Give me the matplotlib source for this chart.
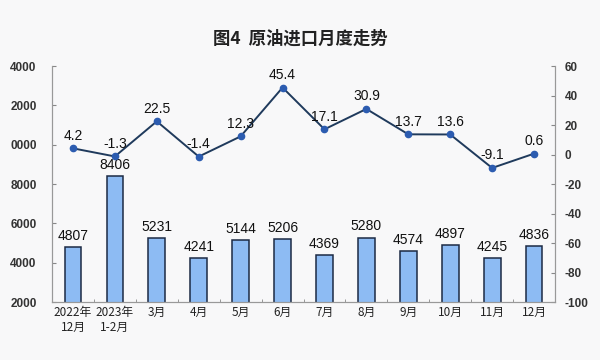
import matplotlib
matplotlib.use("Agg")
import matplotlib.pyplot as plt
import numpy as np

categories = ["2022年\n12月", "2023年\n1-2月", "3月", "4月", "5月", "6月",
              "7月", "8月", "9月", "10月", "11月", "12月"]
imports = [4807, 8406, 5231, 4241, 5144, 5206, 4369, 5280, 4574, 4897, 4245, 4836]
growth = [4.2, -1.3, 22.5, -1.4, 12.3, 45.4, 17.1, 30.9, 13.7, 13.6, -9.1, 0.6]
left_ticks = [2000, 4000, 6000, 8000, 10000, 12000, 14000]
left_tick_labels = ["2000", "4000", "6000", "8000", "0000", "2000", "4000"]
right_ticks = [-100, -80, -60, -40, -20, 0, 20, 40, 60]
title = "图4  原油进口月度走势"

plt.rcParams['font.family'] = ['Noto Sans CJK SC', 'DejaVu Sans']

bg = '#f8f8f9'
fig = plt.figure(figsize=(6, 3.6), dpi=100, facecolor=bg)
ax = fig.add_axes([0.0867, 0.161, 0.8383, 0.6556])
ax.set_facecolor('none')
x = np.arange(len(categories))

ax.bar(x, imports, width=0.40, color='#8dbbf3', edgecolor='#1c2a44', linewidth=1.1, zorder=2)
ax.set_xlim(-0.5, len(categories) - 0.5)
ax.set_ylim(2000, 14000)
ax.set_yticks(left_ticks)
ax.set_yticklabels(left_tick_labels, fontfamily='Liberation Sans', fontweight='bold',
                   fontsize=8.5, color='#333333')
ax.tick_params(axis='y', direction='in', length=3, pad=11, color='#888888')
ax.set_xticks(x)
ax.set_xticklabels(categories, fontsize=8.5, color='#222222', linespacing=1.15)
ax.tick_params(axis='x', which='major', length=0, pad=3)
ax.set_xticks(np.arange(len(categories) + 1) - 0.5, minor=True)
ax.tick_params(axis='x', which='minor', direction='in', length=2, color='#888888')

for xi, v in zip(x, imports):
    ax.annotate(f"{v}", (xi, v), xytext=(0, 3), textcoords='offset points',
                ha='center', va='bottom', fontsize=10, fontfamily='Liberation Sans',
                color='#111111')

ax2 = ax.twinx()
ax2.set_ylim(-100, 60)
ax2.set_yticks(right_ticks)
ax2.set_yticklabels([str(t) for t in right_ticks], fontfamily='Liberation Sans',
                    fontweight='bold', fontsize=8.5, color='#333333')
ax2.tick_params(axis='y', direction='in', length=3, pad=7, color='#888888')
ax2.plot(x, growth, color='#1f3a5c', linewidth=1.4, marker='o', markersize=4.5,
         markerfacecolor='#2c5cb0', markeredgecolor='#2c5cb0', zorder=3)
for xi, v in zip(x, growth):
    ax2.annotate(f"{v}", (xi, v), xytext=(0, 4), textcoords='offset points',
                 ha='center', va='bottom', fontsize=10, fontfamily='Liberation Sans',
                 color='#111111')

for a in (ax, ax2):
    a.spines['top'].set_visible(False)
    for s in ('left', 'right', 'bottom'):
        a.spines[s].set_color('#999999')
        a.spines[s].set_linewidth(0.8)

fig.text(0.5, 0.893, title, ha='center', va='center', fontsize=12.5,
         fontweight='bold', color='#222222')

fig.savefig('out.png', dpi=100, facecolor=bg)
